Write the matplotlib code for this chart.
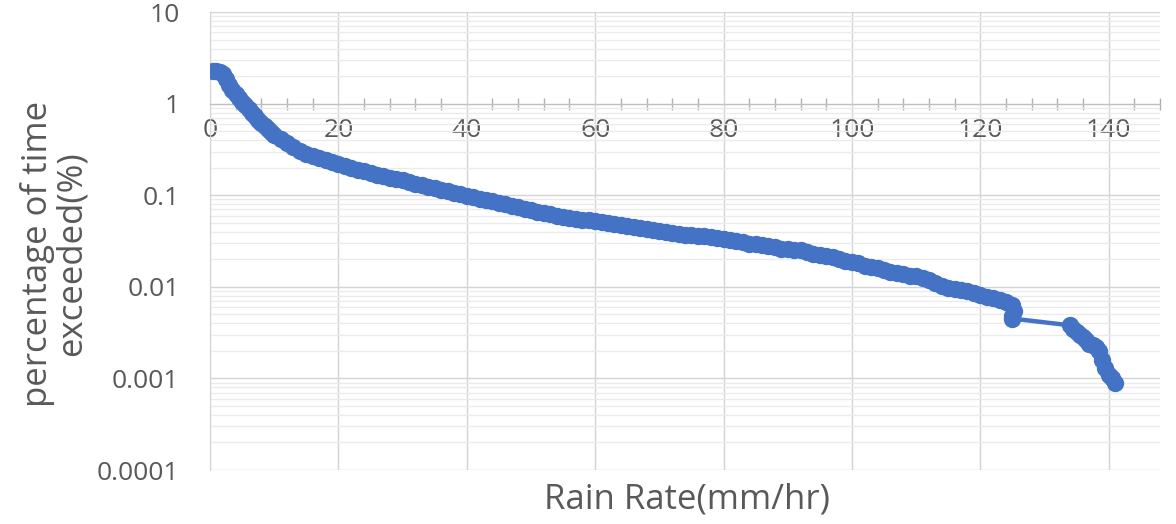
import numpy as np
import matplotlib.pyplot as plt
from matplotlib.ticker import FixedLocator, MultipleLocator, NullFormatter

plt.rcParams['font.family'] = ['Open Sans', 'DejaVu Sans']

# rain rate (mm/hr) and percentage of time exceeded (%)
rain_rate = [0.5, 1, 1.5, 2, 2.5, 3, 3.5, 4, 4.5, 5, 5.5, 6, 6.5, 7, 7.5, 8, 8.5, 9, 9.5, 10,
             11, 12, 13, 14, 15, 16, 17, 18, 19, 20, 21, 22, 23, 24, 25, 26, 27, 28, 29, 30,
             31, 32, 33, 34, 35, 36, 37, 38, 39, 40, 41, 42, 43, 44, 45, 46, 47, 48, 49, 50,
             51, 52, 53, 54, 55, 56, 57, 58, 59, 60, 61, 62, 63, 64, 65, 66, 67, 68, 69, 70,
             71, 72, 73, 74, 75, 76, 77, 78, 79, 80, 81, 82, 83, 84, 85, 86, 87, 88, 89, 90,
             91, 92, 93, 94, 95, 96, 97, 98, 99, 100, 101, 102, 103, 104, 105, 106, 107, 108, 109, 110,
             111, 112, 113, 114, 115, 116, 117, 118, 119, 120, 121, 122, 123, 124, 125, 125.2, 125, 125,
             134, 134.5, 135, 135.5, 136, 136.5, 137, 137.5, 138, 138.5, 139, 139.5, 140, 140.5, 141]
pct_exceeded = [2.3, 2.3, 2.2, 2.1, 1.85, 1.6, 1.42, 1.28, 1.15, 1.05, 0.96, 0.88, 0.80, 0.73, 0.67, 0.62, 0.57, 0.53, 0.49, 0.46,
                0.41, 0.37, 0.335, 0.305, 0.285, 0.27, 0.255, 0.24, 0.228, 0.217, 0.207, 0.198, 0.19, 0.182, 0.175, 0.168, 0.161, 0.155, 0.15, 0.145,
                0.139, 0.134, 0.129, 0.124, 0.119, 0.115, 0.111, 0.106, 0.102, 0.098, 0.095, 0.092, 0.089, 0.086, 0.083, 0.080, 0.077, 0.074, 0.071, 0.069,
                0.066, 0.064, 0.062, 0.060, 0.058, 0.056, 0.055, 0.054, 0.053, 0.052, 0.051, 0.050, 0.048, 0.047, 0.046, 0.045, 0.044, 0.043, 0.042, 0.041,
                0.040, 0.039, 0.038, 0.037, 0.0365, 0.036, 0.0355, 0.035, 0.034, 0.0335, 0.0325, 0.0315, 0.0305, 0.0295, 0.029, 0.0285, 0.028, 0.027, 0.026, 0.026,
                0.0255, 0.025, 0.024, 0.023, 0.022, 0.0215, 0.021, 0.020, 0.019, 0.0185, 0.018, 0.017, 0.0165, 0.016, 0.0152, 0.0147, 0.0142, 0.0137, 0.0132, 0.013,
                0.0125, 0.0118, 0.011, 0.0102, 0.0097, 0.0095, 0.0092, 0.0089, 0.0085, 0.0081, 0.0078, 0.0075, 0.0072, 0.0069, 0.0064, 0.0055, 0.0048, 0.0045,
                0.0038, 0.0035, 0.0032, 0.0030, 0.0028, 0.0026, 0.0024, 0.0023, 0.0022, 0.0020, 0.0016, 0.0013, 0.0011, 0.0010, 0.0009]

x_ticks = [0, 20, 40, 60, 80, 100, 120, 140]
y_ticks = [0.0001, 0.001, 0.01, 0.1, 1, 10]
y_labels = ['0.0001', '0.001', '0.01', '0.1', '1', '10']

txt = '#595959'
blue = '#4472C4'

fig = plt.figure(figsize=(11.76, 5.24), dpi=100)
ax = fig.add_axes([0.1786, 0.103, 0.8078, 0.874])

ax.plot(rain_rate, pct_exceeded, color=blue, lw=3.2, marker='o', ms=12.5,
        markeredgewidth=0, zorder=3)

ax.set_yscale('log')
ax.set_ylim(1e-4, 10)
ax.set_xlim(0, 148)

ax.yaxis.set_major_locator(FixedLocator(y_ticks))
ax.set_yticklabels(y_labels)
ax.yaxis.set_minor_locator(FixedLocator(
    [m * 10.0 ** e for e in range(-4, 1) for m in range(2, 10)]))
ax.yaxis.set_minor_formatter(NullFormatter())

ax.set_xticks(x_ticks)
ax.xaxis.set_minor_locator(MultipleLocator(4))

ax.grid(True, which='major', color='#d4d4d4', lw=1.0, zorder=0)
ax.grid(True, which='minor', axis='y', color='#ebebeb', lw=1.0, zorder=0)

# x axis crosses at y = 1
ax.spines['bottom'].set_position(('data', 1))
ax.spines['bottom'].set_color('#bfbfbf')
ax.spines['left'].set_color('#d4d4d4')
ax.spines['top'].set_visible(False)
ax.spines['right'].set_visible(False)

ax.tick_params(axis='y', which='both', length=0, labelsize=19, labelcolor=txt, pad=22)
ax.tick_params(axis='x', which='major', length=0, labelsize=19, labelcolor=txt, pad=10)
ax.tick_params(axis='x', which='minor', length=8, direction='inout', color='#b0b0b0', width=1)

fig.text(0.584, 0.047, 'Rain Rate(mm/hr)', ha='center', va='center',
         fontsize=25, color=txt)
fig.text(0.046, 0.515, 'percentage of time\nexceeded(%)', ha='center', va='center',
         rotation=90, fontsize=25, color=txt, linespacing=1.0)

fig.savefig('out.png', dpi=100)
